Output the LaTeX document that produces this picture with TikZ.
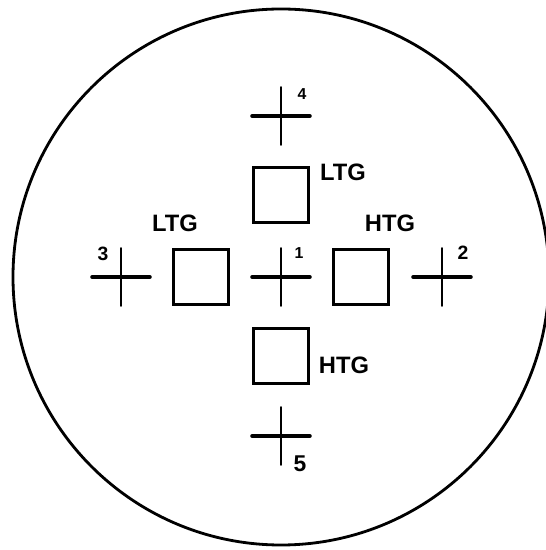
\documentclass[tikz,border=0pt]{standalone}
\usepackage{fontspec}
\setmainfont{Liberation Sans}
\usetikzlibrary{positioning}

\begin{document}
\begin{tikzpicture}[
  field/.style={draw,circle,line width=1.6pt,minimum size=10.72cm,inner sep=0pt},
  target/.style={draw,line width=1.7pt,minimum size=1.1cm,inner sep=0pt},
  reticle/.style={minimum size=1.14cm,inner sep=0pt},
  hbar/.style={line width=2.2pt,line cap=round},
  vbar/.style={line width=1.1pt,line cap=round},
  tag/.style={font=\bfseries\fontsize{13.5}{13.5}\selectfont,inner sep=0pt},
  num/.style={font=\bfseries\fontsize{10}{10}\selectfont,inner sep=0pt}
]
\useasboundingbox (-5.62,-5.46) rectangle (5.28,5.54);
\node[field] (view) at (0,0) {};
% crosshairs
\node[reticle] (r1) at (0,0) {};
\node[reticle] (r2) at (3.22,0) {};
\node[reticle] (r3) at (-3.2,0) {};
\node[reticle] (r4) at (0,3.22) {};
\node[reticle] (r5) at (0,-3.18) {};
\foreach \r in {r1,r2,r3,r4,r5}{\draw[hbar] (\r.west) -- (\r.east); \draw[vbar] (\r.north) -- (\r.south);}
\node[num,font=\bfseries\fontsize{9}{9}\selectfont] (n1) at (0.36,0.48) {1};
\node[num,font=\bfseries\fontsize{11}{11}\selectfont] (n2) at (3.64,0.48) {2};
\node[num,font=\bfseries\fontsize{11}{11}\selectfont] (n3) at (-3.56,0.46) {3};
\node[num,font=\bfseries\fontsize{9}{9}\selectfont] (n4) at (0.42,3.66) {4};
\node[num,font=\bfseries\fontsize{13}{13}\selectfont] (n5) at (0.38,-3.74) {5};
% gratings
\node[target] (gT) at (0,1.64) {};
\node[target] (gL) at (-1.6,0) {};
\node[target] (gR) at (1.6,0) {};
\node[target] (gB) at (0,-1.58) {};
\node[tag] (tT) at (1.24,2.10) {LTG};
\node[tag] (tL) at (-2.12,1.08) {LTG};
\node[tag] (tR) at (2.18,1.08) {HTG};
\node[tag] (tB) at (1.26,-1.76) {HTG};
\end{tikzpicture}
\end{document}
